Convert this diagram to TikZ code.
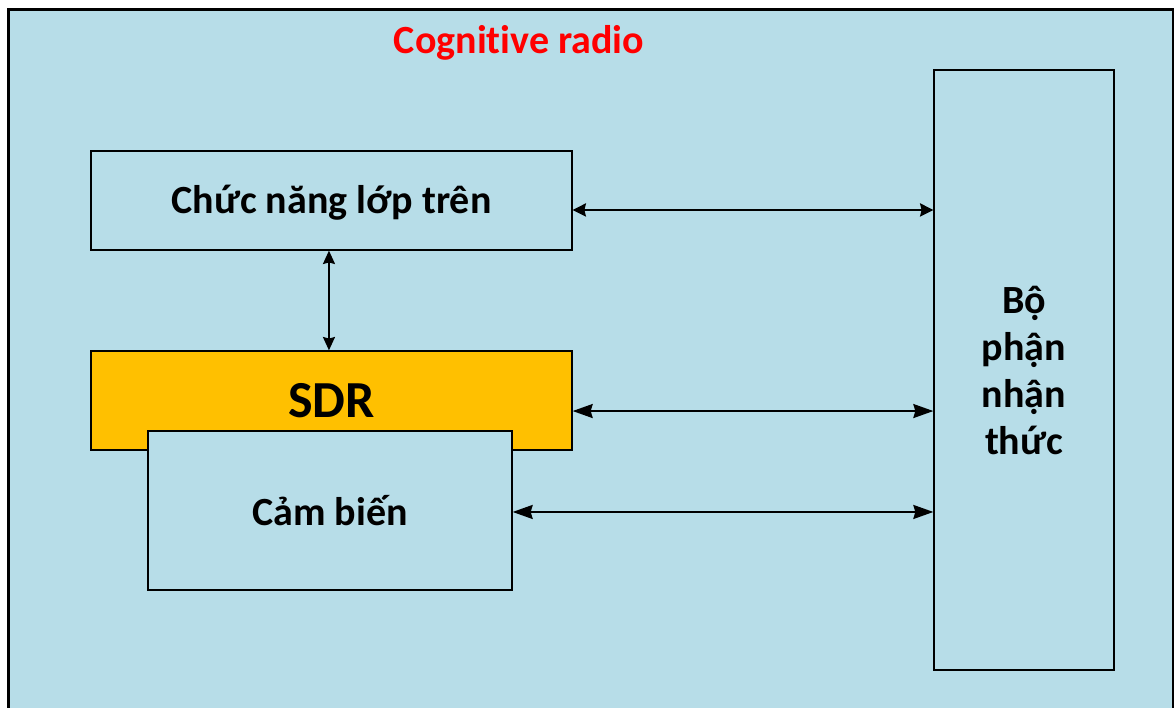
\documentclass[tikz,border=0pt]{standalone}
\usepackage{fontspec}
\setmainfont{Carlito}[Ligatures=NoCommon]
\usetikzlibrary{arrows.meta,calc}
\definecolor{panel}{HTML}{B7DDE8}
\definecolor{sdrfill}{HTML}{FFC000}
\definecolor{titlered}{HTML}{FF0000}
\begin{document}
\begin{tikzpicture}[x=0.75pt,y=-0.75pt,
  block/.style={draw=black, line width=1pt, fill=panel, inner sep=0pt,
    font=\fontsize{30}{35.25}\selectfont\bfseries, align=center},
  thinlink/.style={line width=1pt,
    {Stealth[length=10pt,width=10pt,inset=1.2pt]}-{Stealth[length=10pt,width=10pt,inset=1.2pt]}},
  thicklink/.style={line width=1.5pt,
    {Stealth[length=15pt,width=10.5pt,inset=1.5pt]}-{Stealth[length=15pt,width=10.5pt,inset=1.5pt]}},
  vlink/.style={line width=1.5pt,
    {Stealth[length=10pt,width=9pt,inset=1.2pt]}-{Stealth[length=10pt,width=9pt,inset=1.2pt]}}
]
\useasboundingbox (0,0) rectangle (1174,707);

% outer panel, open at the bottom edge of the page
\begin{scope}
  \clip (0,0) rectangle (1174,707);
  \draw[line width=2.25pt, fill=panel] (8.5,9.5) rectangle (1173.5,730);
\end{scope}

\node[text=titlered, font=\fontsize{30}{36}\selectfont\bfseries] (title) at (519,43) {Cognitive radio};

\node[block, minimum width={481*0.75pt}, minimum height={99*0.75pt}] (upper) at (331.5,200.5)
  {\raisebox{-1.5pt}[\height][\depth]{Chức năng lớp trên}};
\node[block, fill=sdrfill, minimum width={481*0.75pt}, minimum height={99*0.75pt},
  font=\fontsize{39}{45}\selectfont\bfseries] (sdr) at (331.5,400.5) {SDR};
\node[block, minimum width={364*0.75pt}, minimum height={159*0.75pt}] (sensor) at (330,510.5) {Cảm biến};
\node[block, minimum width={180*0.75pt}, minimum height={600*0.75pt}] (cog) at (1024,370) {Bộ\\phận\\nhận\\thức};

\draw[thinlink] ([yshift=-7.1pt]upper.east) -- ([yshift=-7.1pt]upper.east -| cog.west);
\draw[thicklink] ([yshift=-7.9pt]sdr.east) -- ([yshift=-7.9pt]sdr.east -| cog.west);
\draw[thicklink] ([yshift=-1.1pt]sensor.east) -- ([yshift=-1.1pt]sensor.east -| cog.west);
\draw[vlink] ([xshift=-1.9pt]upper.south) -- ([xshift=-1.9pt]sdr.north);
\end{tikzpicture}
\end{document}
